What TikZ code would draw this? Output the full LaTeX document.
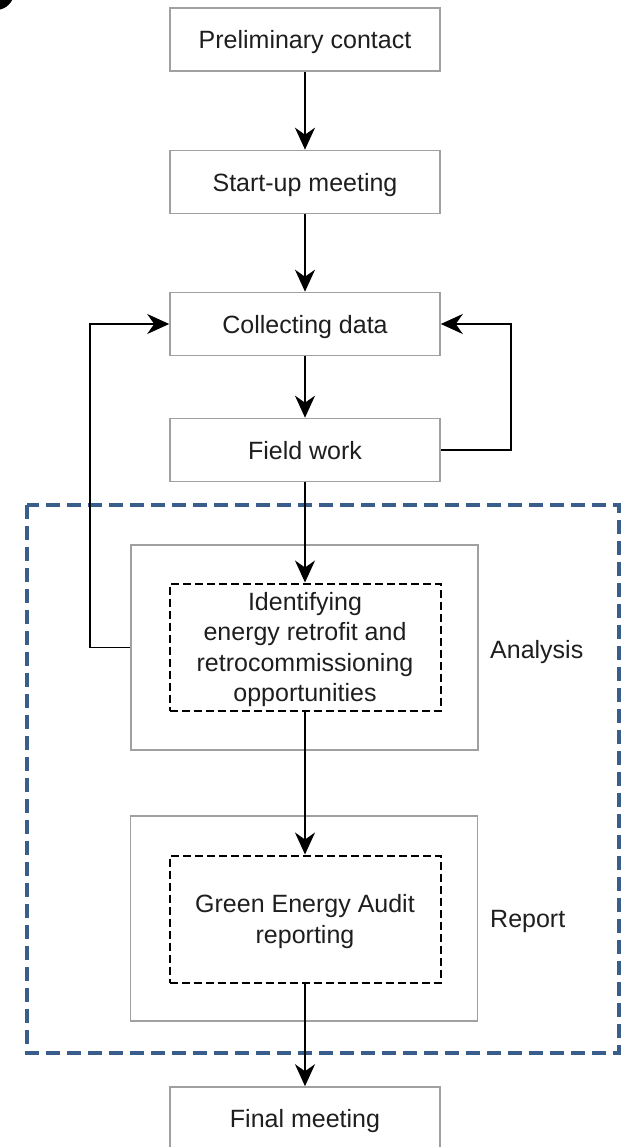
\documentclass[tikz,border=0pt]{standalone}
\usepackage{fontspec}
\setmainfont{Liberation Sans}
\usetikzlibrary{arrows.meta}
\definecolor{boxgray}{RGB}{160,160,160}
\definecolor{groupblue}{RGB}{58,94,140}
\definecolor{txt}{RGB}{30,30,30}
\begin{document}
\begin{tikzpicture}[x=1pt,y=-1pt,
  every node/.style={font=\fontsize{25}{30.5}\selectfont, text=txt, inner sep=0pt, align=center, text depth=0pt},
  stepbox/.style={draw=boxgray, line width=1.6pt, fill=white, minimum width=270pt, minimum height=63pt},
  phasebox/.style={draw=boxgray, line width=1.6pt, minimum width=347pt, minimum height=205pt},
  taskbox/.style={draw=black, line width=2pt, dash pattern=on 8pt off 4pt, minimum width=271pt, minimum height=127pt},
  phaselabel/.style={anchor=west},
  arr/.style={draw=black, line width=1.8pt, -{Stealth[length=22pt,width=20pt,inset=7pt]}},
  group/.style={draw=groupblue, line width=3.5pt, dash pattern=on 14pt off 7pt}
]
\useasboundingbox (0,0) rectangle (627,1147);
\clip (0,0) rectangle (627,1147);

% corner mark
\fill[black] (-4,-8) circle (18);

% analysis & report group frame
\draw[group] (27,505) rectangle (619,1053);

% main sequence
\node[stepbox] (pc) at (305,39.5) {Preliminary contact};
\node[stepbox] (su) at (305,182) {Start-up meeting};
\node[stepbox] (cd) at (305,324) {Collecting data};
\node[stepbox] (fw) at (305,450) {Field work};

\node[phasebox] (an) at (304.5,647.5) {};
\node[taskbox] (id) at (305,647) {Identifying\\energy retrofit and\\retrocommissioning\\opportunities};
\node[phaselabel] (anl) at (490,649) {Analysis};

\node[phasebox] (rp) at (304,918.5) {};
\node[taskbox] (ga) at (305,919) {Green Energy Audit\\reporting};
\node[phaselabel] (rpl) at (490,919) {Report};

\node[stepbox] (fm) at (305,1118.5) {Final meeting};

% connectors
\draw[arr] (pc) -- (su);
\draw[arr] (su) -- (cd);
\draw[arr] (cd) -- (fw);
\draw[arr] (fw) -- (id);
\draw[arr] (id) -- (ga);
\draw[arr] (ga) -- (fm);
\draw[arr] (fw.east) -- ++(70,0) |- (cd.east);
\draw[arr] (an.west) -- ++(-40,0) |- (cd.west);
\end{tikzpicture}
\end{document}
